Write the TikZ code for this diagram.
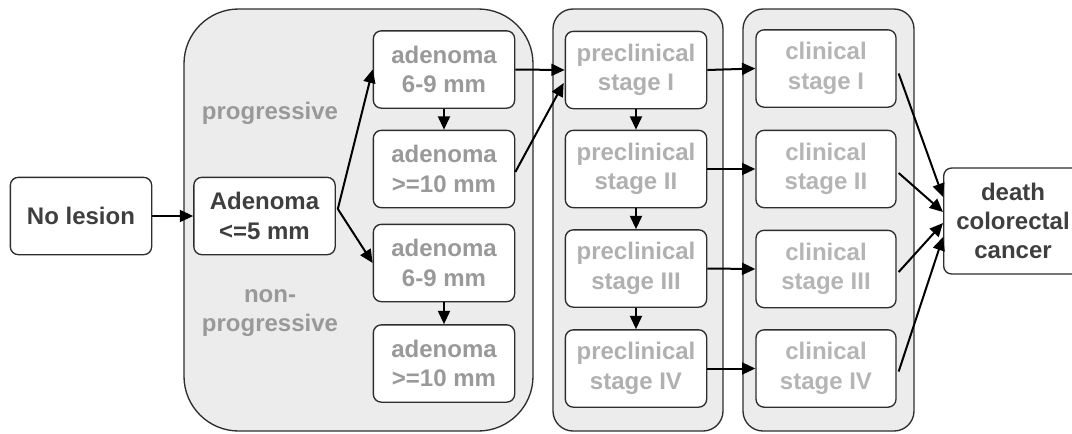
\documentclass[tikz,border=0pt]{standalone}
\usepackage{fontspec}
\setmainfont{Liberation Sans}
\usetikzlibrary{arrows.meta,calc}
\definecolor{dark}{HTML}{3F3F3F}
\definecolor{bordc}{HTML}{2E2E2E}
\definecolor{adc}{HTML}{999999}
\definecolor{prec}{HTML}{B0B0B0}
\definecolor{clic}{HTML}{B5B5B5}
\definecolor{grp}{HTML}{ECECEC}
\begin{document}
\begin{tikzpicture}[x=0.75pt,y=-0.75pt,
  box/.style={draw=bordc,line width=1pt,fill=white,rounded corners=6pt,inner sep=0pt,
    minimum width=106pt,minimum height=58pt,align=center,
    font=\fontsize{18}{22}\selectfont\bfseries},
  group/.style={draw=bordc,line width=1pt,fill=grp},
  lab/.style={align=center,text=adc,font=\fontsize{18}{22}\selectfont\bfseries},
  arr/.style={line width=1.5pt,-{Triangle[length=10pt,width=9pt]}}]
\useasboundingbox (0,0) rectangle (1072,433);
\clip (0,0) rectangle (1072,433);
% groups
\draw[group,rounded corners=41pt] (184,9) rectangle (533,431);
\draw[group,rounded corners=15pt] (553,9) rectangle (723,431);
\draw[group,rounded corners=15pt] (743,9) rectangle (914,431);
% labels
\node[lab] (prog) at (270,113) {progressive};
\node[lab] (nonprog) at (270,313) {non-\\progressive};
% nodes
\node[box,text=dark] (nol) at (81,216) {No lesion};
\node[box,text=dark] (ad5) at (264.5,216) {Adenoma\\<=5 mm};
\node[box,text=adc] (a69p) at (444,69.5) {adenoma\\6-9 mm};
\node[box,text=adc] (a10p) at (444,169) {adenoma\\>=10 mm};
\node[box,text=adc] (a69n) at (444,263) {adenoma\\6-9 mm};
\node[box,text=adc] (a10n) at (444,363.5) {adenoma\\>=10 mm};
\node[box,text=prec] (p1) at (636,70) {preclinical\\stage I};
\node[box,text=prec] (p2) at (636,169) {preclinical\\stage II};
\node[box,text=prec] (p3) at (636,268.5) {preclinical\\stage III};
\node[box,text=prec] (p4) at (636,368.5) {preclinical\\stage IV};
\node[box,text=clic,minimum width=105pt] (c1) at (826,68.5) {clinical\\stage I};
\node[box,text=clic,minimum width=105pt] (c2) at (826,169) {clinical\\stage II};
\node[box,text=clic,minimum width=105pt] (c3) at (826,269) {clinical\\stage III};
\node[box,text=clic,minimum width=105pt] (c4) at (826,368.5) {clinical\\stage IV};
\node[box,text=dark,minimum width=104pt,minimum height=79.5pt] (death) at (1013,221) {death\\colorectal\\cancer};
% connectors
\draw[arr] (nol) -- (ad5);
\draw[arr] ($(ad5.east)+(2,-7)$) -- (a69p.west);
\draw[arr] ($(ad5.east)+(2,-7)$) -- (a69n.west);
\draw[arr] (a69p) -- (a10p);
\draw[arr] (a69n) -- (a10n);
\draw[arr] (a69p.east) -- (p1.west);
\draw[arr] ($(a10p.east)+(0,3)$) -- ($(p1.west)+(-1,13)$);
\draw[arr] (p1) -- (p2);
\draw[arr] (p2) -- (p3);
\draw[arr] (p3) -- (p4);
\draw[arr] (p1.east) -- (c1.west);
\draw[arr] (p2.east) -- (c2.west);
\draw[arr] (p3.east) -- (c3.west);
\draw[arr] (p4.east) -- (c4.west);
\draw[arr] ($(c1.east)+(2,5)$) -- ($(death.west)+(0,-24)$);
\draw[arr] ($(c2.east)+(2,4)$) -- ($(death.west)+(0,-9)$);
\draw[arr] ($(c3.east)+(2,3)$) -- ($(death.west)+(0,2)$);
\draw[arr] ($(c4.east)+(2,3)$) -- ($(death.west)+(0,16)$);
\end{tikzpicture}
\end{document}
